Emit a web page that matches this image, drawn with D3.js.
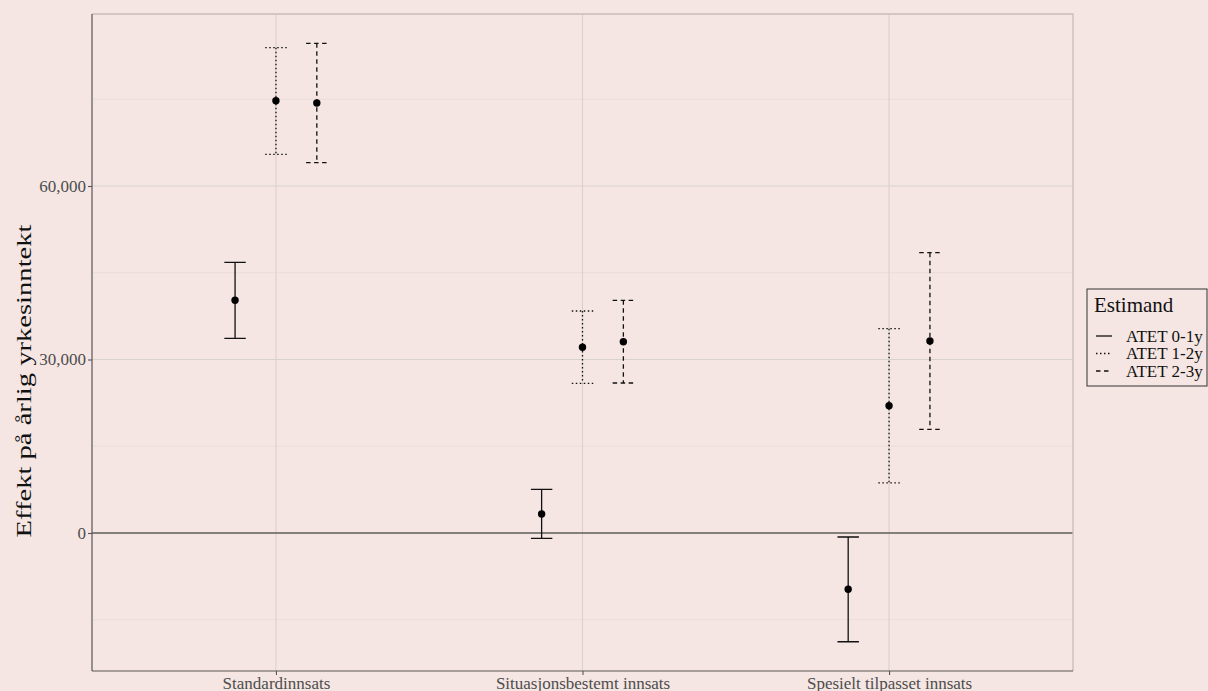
<!DOCTYPE html>
<html>
<head>
<meta charset="utf-8">
<script src="https://cdn.jsdelivr.net/npm/d3@7/dist/d3.min.js"></script>
<style>
  html, body { margin: 0; padding: 0; background: #f5e6e3; }
  svg { display: block; font-family: "Liberation Serif", "DejaVu Serif", serif; }
</style>
</head>
<body>
<svg id="chart" width="1208" height="691"></svg>
<script>
// Effect estimates on annual earnings, by programme type and time window
const categories = ["Standardinnsats", "Situasjonsbestemt innsats", "Spesielt tilpasset innsats"];
const estimands = ["ATET 0-1y", "ATET 1-2y", "ATET 2-3y"];

const est01 = [40240, 3290, -9730];
const lo01  = [33670, -920, -18800];
const hi01  = [46810, 7560, -690];

const est12 = [74750, 32110, 22010];
const lo12  = [65480, 25880, 8650];
const hi12  = [83910, 38390, 35330];

const est23 = [74350, 33080, 33200];
const lo23  = [64040, 25940, 17930];
const hi23  = [84670, 40240, 48470];

const yTicks = [0, 30000, 60000];
const yTickLabels = ["0", "30,000", "60,000"];
const yMinor = [-15000, 15000, 45000, 75000];

const series = [
  { name: estimands[0], est: est01, lo: lo01, hi: hi01, dash: null },
  { name: estimands[1], est: est12, lo: lo12, hi: hi12, dash: "1.5,2.5" },
  { name: estimands[2], est: est23, lo: lo23, hi: hi23, dash: "4.5,3.5" }
];

const svg = d3.select("#chart");
const panel = { left: 92, right: 1073, top: 14, bottom: 671 };

const x = d3.scalePoint().domain(categories).range([panel.left, panel.right]).padding(0.6);
const step = x.step();
const dodge = d3.scalePoint().domain(estimands).range([-step * 0.4 / 3, step * 0.4 / 3]);
const capW = step * 0.07;

const y = d3.scaleLinear().domain([-23862, 89741]).range([panel.bottom, panel.top]);

// panel background
svg.append("rect")
  .attr("x", panel.left).attr("y", panel.top)
  .attr("width", panel.right - panel.left).attr("height", panel.bottom - panel.top)
  .attr("fill", "#f5e6e3");

const grid = svg.append("g");
grid.selectAll("line.minor").data(yMinor).join("line")
  .attr("x1", panel.left).attr("x2", panel.right)
  .attr("y1", d => y(d)).attr("y2", d => y(d))
  .attr("stroke", "#e8dcd9").attr("stroke-width", 1);
grid.selectAll("line.majorY").data(yTicks).join("line")
  .attr("x1", panel.left).attr("x2", panel.right)
  .attr("y1", d => y(d)).attr("y2", d => y(d))
  .attr("stroke", "#d9d1cf").attr("stroke-width", 1.1);
grid.selectAll("line.majorX").data(categories).join("line")
  .attr("x1", d => x(d)).attr("x2", d => x(d))
  .attr("y1", panel.top).attr("y2", panel.bottom)
  .attr("stroke", "#d9d1cf").attr("stroke-width", 1.1);

// reference line at zero
svg.append("line")
  .attr("x1", panel.left).attr("x2", panel.right)
  .attr("y1", y(0)).attr("y2", y(0))
  .attr("stroke", "#222").attr("stroke-width", 1.2);

// panel border: light top and right, darker axis lines
svg.append("path")
  .attr("d", `M${panel.left},${panel.top}H${panel.right}V${panel.bottom}`)
  .attr("fill", "none").attr("stroke", "#c7bcb9").attr("stroke-width", 1.3);

// axes
const yAxis = svg.append("g")
  .attr("transform", `translate(${panel.left},0)`)
  .call(d3.axisLeft(y).tickValues(yTicks).tickFormat((d, i) => yTickLabels[i]).tickSize(4).tickPadding(2));
yAxis.select(".domain").attr("d", `M0,${panel.top}V${panel.bottom}`).attr("stroke", "#5a5555").attr("stroke-width", 1.2);
yAxis.selectAll(".tick line").attr("stroke", "#5a5555").attr("stroke-width", 1.1);
yAxis.selectAll(".tick text").attr("fill", "#4d4d4d").attr("font-size", 17)
  .attr("font-family", "Liberation Serif, serif");

const xAxis = svg.append("g")
  .attr("transform", `translate(0,${panel.bottom})`)
  .call(d3.axisBottom(x).tickSize(4).tickPadding(2));
xAxis.select(".domain").attr("d", `M${panel.left},0H${panel.right}`).attr("stroke", "#5a5555").attr("stroke-width", 1.2);
xAxis.selectAll(".tick line").attr("stroke", "#5a5555").attr("stroke-width", 1.1);
xAxis.selectAll(".tick text").attr("fill", "#4d4d4d").attr("font-size", 17)
  .attr("font-family", "Liberation Serif, serif");

// y axis title (set slightly wide along its length)
svg.append("text")
  .attr("transform", `translate(31,381) rotate(-90) scale(1.3,1)`)
  .attr("text-anchor", "middle")
  .attr("font-size", 22)
  .attr("fill", "#111")
  .text("Effekt på årlig yrkesinntekt");

// error bars and point estimates
const marks = svg.append("g");
series.forEach(s => {
  const g = marks.append("g");
  categories.forEach((c, i) => {
    const cx = x(c) + dodge(s.name);
    const path = `M${cx - capW / 2},${y(s.hi[i])}H${cx + capW / 2}` +
                 `M${cx},${y(s.hi[i])}V${y(s.lo[i])}` +
                 `M${cx - capW / 2},${y(s.lo[i])}H${cx + capW / 2}`;
    g.append("path")
      .attr("d", path)
      .attr("fill", "none")
      .attr("stroke", "#111")
      .attr("stroke-width", 1.3)
      .attr("stroke-dasharray", s.dash);
    g.append("circle")
      .attr("cx", cx).attr("cy", y(s.est[i]))
      .attr("r", 3.7)
      .attr("fill", "#000");
  });
});

// legend
const lg = svg.append("g").attr("transform", "translate(1087,289)");
lg.append("rect")
  .attr("x", 0).attr("y", 0).attr("width", 120).attr("height", 97)
  .attr("fill", "#f5e6e3").attr("stroke", "#333").attr("stroke-width", 1);
lg.append("text")
  .attr("x", 7).attr("y", 23)
  .attr("font-size", 21).attr("fill", "#111")
  .text("Estimand");
series.forEach((s, i) => {
  const cy = 47 + i * 17.5;
  lg.append("line")
    .attr("x1", 9).attr("x2", 25).attr("y1", cy).attr("y2", cy)
    .attr("stroke", "#111").attr("stroke-width", 1.3)
    .attr("stroke-dasharray", s.dash);
  lg.append("text")
    .attr("x", 39).attr("y", cy + 5.5)
    .attr("font-size", 17).attr("fill", "#111")
    .text(s.name);
});
</script>
</body>
</html>
